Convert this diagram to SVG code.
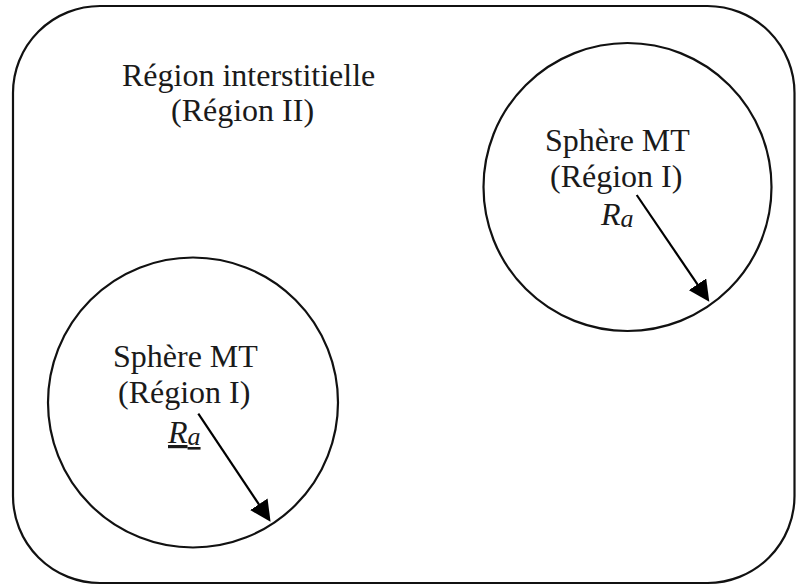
<svg xmlns="http://www.w3.org/2000/svg" width="796" height="586" viewBox="0 0 796 586">
  <style>
    .shape { fill: none; stroke: #111; stroke-width: 2.2; }
    .lbl { font-family: "Liberation Serif", "Times New Roman", serif; font-size: 32px; fill: #1a1a1a; }
    .it { font-style: italic; }
    .sub { font-size: 26px; }
    .ray { stroke: #000; stroke-width: 2.2; fill: none; marker-end: url(#head); }
  </style>
  <defs>
    <!-- solid triangular arrowhead, tip 11px beyond the line end -->
    <marker id="head" viewBox="0 0 21 21" refX="10" refY="10.5" markerWidth="21" markerHeight="21" markerUnits="userSpaceOnUse" orient="auto">
      <path d="M0,0 L21,10.5 L0,21 z" fill="#000"/>
    </marker>
  </defs>

  <g id="interstitial">
    <rect class="shape" x="13" y="6" width="781.5" height="577" rx="87" ry="87"/>
    <text class="lbl" x="122" y="86">Région interstitielle</text>
    <text class="lbl" x="171" y="121">(Région II)</text>
  </g>

  <g id="sphere-a">
    <circle class="shape" cx="627.5" cy="187" r="144"/>
    <text class="lbl" x="545" y="151">Sphère MT</text>
    <text class="lbl" x="550" y="187">(Région I)</text>
    <text class="lbl it" x="601" y="225">R<tspan class="sub" dy="2">a</tspan></text>
  </g>

  <g id="sphere-b">
    <circle class="shape" cx="193" cy="402.5" r="145"/>
    <text class="lbl" x="113" y="367">Sphère MT</text>
    <text class="lbl" x="118" y="403">(Région I)</text>
    <text class="lbl it" x="168" y="443" text-decoration="underline">R<tspan class="sub" dy="2">a</tspan></text>
  </g>

  <g id="connectors">
    <line class="ray" x1="636.7" y1="195" x2="703.1" y2="292.6"/>
    <line class="ray" x1="198.3" y1="413.7" x2="264.4" y2="512.6"/>
  </g>
</svg>
